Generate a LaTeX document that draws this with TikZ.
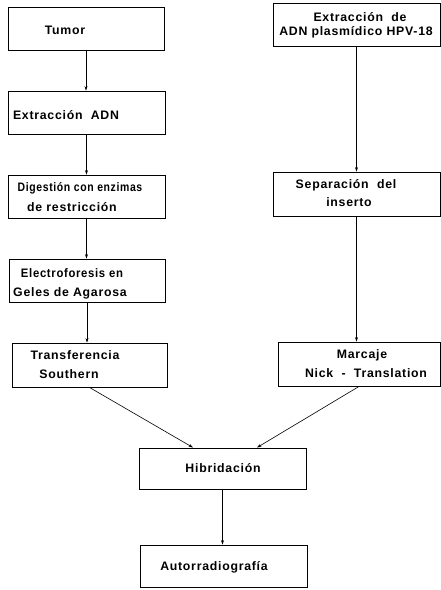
\documentclass[tikz,border=0pt]{standalone}
\usepackage{fontspec}
\setmainfont{Liberation Sans}[LetterSpace=6]
\usetikzlibrary{arrows.meta}
\tikzset{
  box/.style={draw, line width=0.9pt, inner sep=0pt, minimum height=43pt},
  lbl/.style={font=\bfseries\fontsize{12.3}{14}\selectfont, inner sep=0pt, align=center},
  arr/.style={line width=0.6pt, -{Stealth[length=4.5pt,width=3pt]}}
}
\begin{document}
\begin{tikzpicture}[x=1pt,y=-1pt]
\useasboundingbox (0,0) rectangle (441,590);
% boxes
\node[box, minimum width=156pt] (tumor) at (86,28.5) {};
\node[box, minimum width=157pt] (ext) at (86.5,112.5) {};
\node[box, minimum width=157pt] (dig) at (86.5,196.5) {};
\node[box, minimum width=156pt] (elec) at (87,280.5) {};
\node[box, minimum width=155pt, minimum height=44pt] (trans) at (89.5,365) {};
\node[box, minimum width=167pt] (extr) at (356.5,24.5) {};
\node[box, minimum width=167pt, minimum height=44pt] (sep) at (356.5,194) {};
\node[box, minimum width=162pt, minimum height=44pt] (marc) at (359,364) {};
\node[box, minimum width=167pt, minimum height=41pt] (hib) at (222.5,468.5) {};
\node[box, minimum width=167pt, minimum height=42pt] (auto) at (223.5,566) {};
% texts
\node[lbl] (t1) at (65,30) {Tumor};
\node[lbl] (t2) at (66,115) {Extracción\ \ ADN};
\node[lbl] (t3a) at (80,188) {\scalebox{0.85}[1]{Digestión con enzimas}};
\node[lbl] (t3b) at (72,207) {de restricción};
\node[lbl] (t4a) at (72,273) {\scalebox{0.92}[1]{Electroforesis en}};
\node[lbl] (t4b) at (70,293) {Geles de Agarosa};
\node[lbl] (t5a) at (75,355) {Transferencia};
\node[lbl] (t5b) at (69,374) {Southern};
\node[lbl] (t6a) at (360,17) {Extracción\ \ de};
\node[lbl] (t6b) at (356,32) {ADN plasmídico HPV-18};
\node[lbl] (t7a) at (346,185) {Separación\ \ del};
\node[lbl] (t7b) at (349,202) {inserto};
\node[lbl] (t8a) at (362,355) {Marcaje};
\node[lbl] (t8b) at (366,373) {Nick\ \ -\ \ Translation};
\node[lbl] (t9) at (223,468) {Hibridación};
\node[lbl] (t10) at (214,567) {Autorradiografía};
% connectors
\draw[arr] (tumor.south) -- (tumor.south |- ext.north);
\draw[arr] (ext.south) -- (ext.south |- dig.north);
\draw[arr] (dig.south) -- (dig.south |- elec.north);
\draw[arr] (elec.south) -- (elec.south |- trans.north);
\draw[arr] (extr.south) -- (extr.south |- sep.north);
\draw[arr] (sep.south) -- (sep.south |- marc.north);
\draw[arr] (trans.south) -- ([xshift=-29.5pt]hib.north);
\draw[arr] (marc.south) -- ([xshift=34.5pt]hib.north);
\draw[arr] (hib.south) -- (hib.south |- auto.north);
\end{tikzpicture}
\end{document}
